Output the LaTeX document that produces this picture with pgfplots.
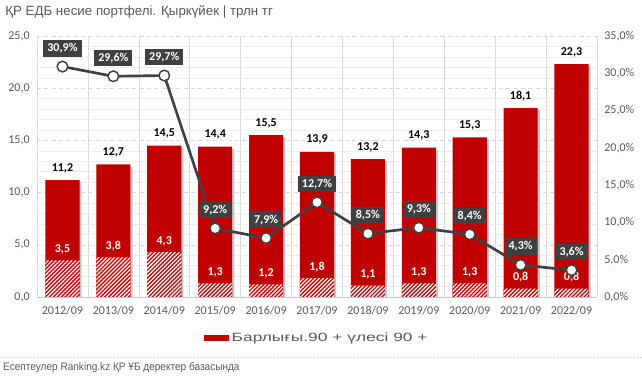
\documentclass[border=0pt]{standalone}
\usepackage{fontspec}
\setmainfont{Carlito}
\newfontfamily\arial{Liberation Sans}
\usepackage{pgfplots}
\pgfplotsset{compat=1.18}
\usetikzlibrary{patterns.meta}
\definecolor{barred}{HTML}{C00000}
\definecolor{lgray}{HTML}{404040}
\definecolor{tgray}{HTML}{595959}
\definecolor{gridc}{HTML}{D9D9D9}
\definecolor{mgridc}{HTML}{EEEEEE}
\pgfplotsset{
  /pgf/number format/.cd, fixed, fixed zerofill, precision=1, use comma, assume math mode=true,
}
\begin{document}
\begin{tikzpicture}
\path[use as bounding box, fill=white] (0,0) rectangle (481.5pt,285pt);
\node[anchor=west, font=\arial\fontsize{10}{12}\selectfont, text=tgray, inner sep=0pt] at (3.75pt,276pt) {ҚР ЕДБ несие портфелі. Қыркүйек | трлн тг};
\draw[color=gridc, dash pattern=on 1.5pt off 1pt] (0pt,17.25pt) -- (481.5pt,17.25pt);
\node[anchor=west, font=\arial\fontsize{8.2}{10}\selectfont, text=tgray, inner sep=0pt, xscale=0.92] at (2.25pt,9pt) {Есептеулер Ranking.kz ҚР ҰБ деректер базасында};
\begin{axis}[
  at={(27.75pt,62.25pt)}, anchor=south west, scale only axis,
  width=420pt, height=195.75pt,
  xmin=-0.5, xmax=10.5, ymin=0, ymax=25, clip=false,
  xtick={0,...,10},
  xticklabels={2012/09,2013/09,2014/09,2015/09,2016/09,2017/09,2018/09,2019/09,2020/09,2021/09,2022/09},
  minor xtick={-0.5,0.5,...,10.5}, xminorgrids=true,
  ytick={0,5,...,25},
  minor ytick={1,2,3,4,6,7,8,9,11,12,13,14,16,17,18,19,21,22,23,24},
  ymajorgrids=true, yminorgrids=true,
  major grid style={color=gridc, dash pattern=on 3pt off 2.5pt},
  minor y grid style={color=mgridc},
  minor x grid style={color=gridc},
  axis line style={draw=none},
  major tick length=0pt, minor tick length=0pt,
  tick label style={font=\fontsize{9}{10}\selectfont, text=tgray},
  yticklabel style={xshift=-2pt},
  xticklabel style={yshift=-3pt},
  legend style={draw=none, at={(0.5,-0.157)}, anchor=center, font=\arial\fontsize{9}{10}\selectfont, text=tgray, inner sep=1pt},
  legend image code/.code={\fill[barred] (0pt,-2.3pt) rectangle (19pt,2.3pt);},
]
\addplot[ybar, bar width=0.67, bar shift=1.6pt, fill=black!22, draw=none, forget plot]
  coordinates {(0,11.0) (1,12.5) (2,14.3) (3,14.2) (4,15.3) (5,13.7) (6,13.0) (7,14.1) (8,15.1) (9,17.9) (10,22.1)};
\addplot[ybar, bar width=0.67, bar shift=0pt, fill=barred, draw=none,
  nodes near coords,
  every node near coord/.append style={font=\bfseries\fontsize{9}{10}\selectfont, text=black, anchor=south, yshift=2pt}]
  coordinates {(0,11.2) (1,12.7) (2,14.5) (3,14.4) (4,15.5) (5,13.9) (6,13.2) (7,14.3) (8,15.3) (9,18.1) (10,22.3)};
\addlegendentry{\scalebox{1.45}[1]{Барлығы.90 + үлесі 90 +}}
\addplot[ybar, bar width=0.67, bar shift=0pt, fill=barred, draw=none, forget plot,
  postaction={pattern={Lines[angle=45,distance=2.1pt,line width=0.95pt]}, pattern color=white},
  nodes near coords,
  every node near coord/.append style={font=\bfseries\fontsize{9}{10}\selectfont, text=white, anchor=south, yshift=1pt}]
  coordinates {(0,3.5) (1,3.8) (2,4.3) (3,1.3) (4,1.2) (5,1.8) (6,1.1) (7,1.3) (8,1.3) (9,0.8) (10,0.8)};
\draw[color=gridc!80!gray] (axis cs:-0.5,0) -- (axis cs:10.5,0);
\end{axis}
\begin{axis}[
  at={(27.75pt,62.25pt)}, anchor=south west, scale only axis,
  width=420pt, height=195.75pt,
  xmin=-0.5, xmax=10.5, ymin=0, ymax=35, clip=false,
  axis x line=none, axis y line*=right, axis line style={draw=none},
  ytick={0,5,...,35},
  yticklabel={\pgfmathprintnumber{\tick}\%},
  major tick length=0pt,
  tick label style={font=\fontsize{9}{10}\selectfont, text=tgray},
  yticklabel style={xshift=2pt},
]
\addplot[lgray, line width=2pt, mark=*, mark size=4pt,
  mark options={fill=white, draw=lgray, line width=1.1pt},
  nodes near coords={\pgfmathprintnumber{\pgfplotspointmeta}\%},
  every node near coord/.append style={font=\bfseries\fontsize{9}{10}\selectfont, text=white, fill=lgray, anchor=south, yshift=7pt, inner xsep=3pt, inner ysep=2.5pt}]
  coordinates {(0,30.9) (1,29.6) (2,29.7) (3,9.2) (4,7.9) (5,12.7) (6,8.5) (7,9.3) (8,8.4) (9,4.3) (10,3.6)};
\end{axis}
\end{tikzpicture}
\end{document}
